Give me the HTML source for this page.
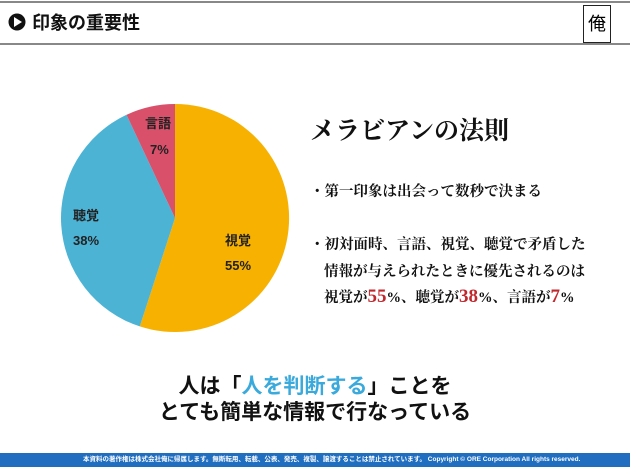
<!DOCTYPE html>
<html><head><meta charset="utf-8"><style>
body{margin:0;width:630px;height:467px;background:#fff;position:relative;overflow:hidden;font-family:"Liberation Sans","Noto Sans CJK JP",sans-serif}
.a{position:absolute;white-space:nowrap}
.s{font-family:"Liberation Serif","Noto Serif CJK SC",serif;font-weight:bold;color:#111}
</style></head><body>
<div class="a" style="left:0;top:1px;width:630px;height:2px;background:#888"></div>
<div class="a" style="left:0;top:43px;width:630px;height:2px;background:#888"></div>
<svg class="a" style="left:8px;top:13px" width="18" height="18"><circle cx="9" cy="9" r="8.5" fill="#111"/><polygon points="6,4 14,9 6,14" fill="#fff"/></svg>
<div class="a" style="left:32px;top:9px;font-size:18px;font-weight:bold;color:#111">印象の重要性</div>
<div class="a" style="left:583px;top:5px;width:26px;height:36px;border:1.5px solid #222;font-size:18px;line-height:36px;text-align:center">俺</div>
<svg class="a" style="left:0;top:0" width="630" height="467">
<path d="M175,218 L175,104 A114,114 0 1 1 139.8,326.4 Z" fill="#F7B100"/>
<path d="M175,218 L139.8,326.4 A114,114 0 0 1 126.5,114.8 Z" fill="#4CB3D5"/>
<path d="M175,218 L126.5,114.8 A114,114 0 0 1 175,104 Z" fill="#D9506B"/>
<g font-family="Liberation Sans,Noto Sans CJK JP,sans-serif" font-weight="bold" font-size="13" fill="#222">
<text x="145" y="128">言語</text><text x="150" y="154">7%</text>
<text x="73" y="220">聴覚</text><text x="73" y="245">38%</text>
<text x="225" y="245">視覚</text><text x="225" y="270">55%</text>
</g></svg>
<div class="a s" style="left:310px;top:111px;font-size:25px">メラビアンの法則</div>
<div class="a s" style="left:310px;top:180px;font-size:14.5px">・第一印象は出会って数秒で決まる</div>
<div class="a s" style="left:310px;top:233px;font-size:14.5px">・初対面時、言語、視覚、聴覚で矛盾した</div>
<div class="a s" style="left:324px;top:260px;font-size:14.5px">情報が与えられたときに優先されるのは</div>
<div class="a s" style="left:324px;top:286px;font-size:14.5px">視覚が<span style="color:#C0282D;font-size:19px">55</span>%、聴覚が<span style="color:#C0282D;font-size:19px">38</span>%、言語が<span style="color:#C0282D;font-size:19px">7</span>%</div>
<div class="a" style="left:0;width:630px;text-align:center;top:370px;font-size:21px;font-weight:bold;color:#111">人は「<span style="color:#3AA9DC">人を判断する</span>」ことを</div>
<div class="a" style="left:0;width:630px;text-align:center;top:396px;font-size:21px;font-weight:bold;color:#111">とても簡単な情報で行なっている</div>
<div class="a" style="left:0;top:453px;width:630px;height:14px;background:#1F6EC0"></div>
<div class="a" style="left:83px;top:455px;font-size:6.5px;color:#fff;line-height:10px;font-weight:bold">本資料の著作権は株式会社俺に帰属します。無断転用、転載、公表、発売、複製、譲渡することは禁止されています。 Copyright © ORE Corporation All rights reserved.</div>
</body></html>
